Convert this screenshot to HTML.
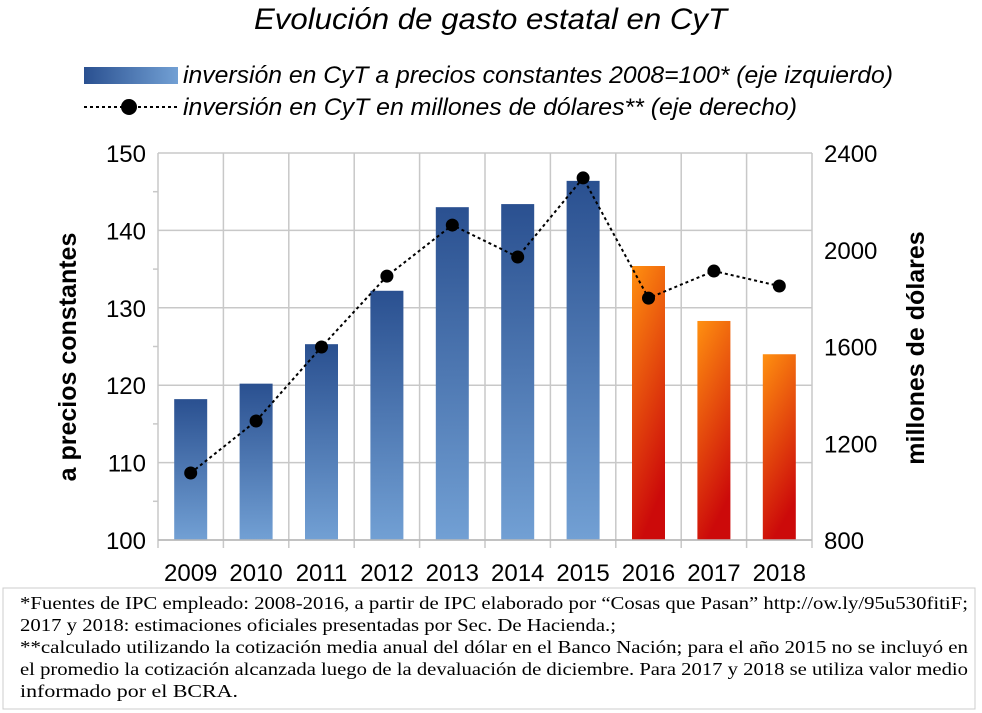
<!DOCTYPE html>
<html><head><meta charset="utf-8"><style>
html,body{margin:0;padding:0;background:#fff;}
svg{display:block;font-family:"Liberation Sans",sans-serif;}
</style></head><body>
<svg id="chart" width="982" height="713" viewBox="0 0 982 713">
<defs>
<linearGradient id="gBlue" x1="0" y1="0" x2="0" y2="1"><stop offset="0" stop-color="#2a5090"/><stop offset="1" stop-color="#72a0d4"/></linearGradient>
<linearGradient id="gOrange" x1="0" y1="0" x2="0.3" y2="1"><stop offset="0" stop-color="#ff9010"/><stop offset="1" stop-color="#cc0a0a"/></linearGradient>
<linearGradient id="gLeg" x1="0" y1="0" x2="1" y2="0"><stop offset="0" stop-color="#2a5090"/><stop offset="1" stop-color="#72a0d4"/></linearGradient>
</defs>
<text x="254" y="29" textLength="473" lengthAdjust="spacingAndGlyphs" font-size="30" font-style="italic">Evolución de gasto estatal en CyT</text>
<rect x="84" y="67" width="94" height="17" fill="url(#gLeg)"/>
<text x="183" y="83" textLength="710" lengthAdjust="spacingAndGlyphs" font-size="24" font-style="italic">inversión en CyT a precios constantes 2008=100* (eje izquierdo)</text>
<line x1="84" y1="107" x2="178" y2="107" stroke="#000" stroke-width="2" stroke-dasharray="3,3"/>
<circle cx="129" cy="107" r="8" fill="#000"/>
<text x="183" y="115" textLength="614" lengthAdjust="spacingAndGlyphs" font-size="24" font-style="italic">inversión en CyT en millones de dólares** (eje derecho)</text>
<g id="grid"></g><g id="bars"></g><g id="line"></g><g id="axes"></g>
<text transform="translate(76,357) rotate(-90)" text-anchor="middle" font-size="25" font-weight="bold">a precios constantes</text>
<text transform="translate(924,348) rotate(-90)" text-anchor="middle" font-size="25" font-weight="bold">millones de dólares</text>
<rect x="3" y="588" width="972" height="121" fill="none" stroke="#ccc"/>
<g font-family="Liberation Serif, serif" font-size="18">
<text x="20" y="609" textLength="948" lengthAdjust="spacingAndGlyphs">*Fuentes de IPC empleado: 2008-2016, a partir de IPC elaborado por “Cosas que Pasan” http://ow.ly/95u530fitiF;</text>
<text x="20" y="631" textLength="596" lengthAdjust="spacingAndGlyphs">2017 y 2018: estimaciones oficiales presentadas por Sec. De Hacienda.;</text>
<text x="20" y="653" textLength="948" lengthAdjust="spacingAndGlyphs">**calculado utilizando la cotización  media anual del dólar en el Banco Nación; para el año 2015 no se incluyó en</text>
<text x="20" y="675" textLength="948" lengthAdjust="spacingAndGlyphs">el promedio la cotización alcanzada luego de la devaluación de diciembre. Para 2017 y 2018 se utiliza valor medio</text>
<text x="20" y="697" textLength="218" lengthAdjust="spacingAndGlyphs">informado por el BCRA.</text>
</g>
</svg>
<script>
const categories=["2009","2010","2011","2012","2013","2014","2015","2016","2017","2018"];
const barValues=[118.2,120.2,125.3,132.2,143.0,143.4,146.4,135.4,128.3,124.0];
const lineValues=[1077,1292,1598,1891,2102,1970,2297,1800,1912,1850];
const leftTicks=[100,110,120,130,140,150];
const rightTicks=[800,1200,1600,2000,2400];
const NS="http://www.w3.org/2000/svg";
const L=158,R=812,T=153,B=540;
const cw=(R-L)/categories.length;
const yL=v=>B-(v-100)/50*(B-T);
const yR=v=>B-(v-800)/1600*(B-T);
const xC=i=>L+cw*(i+0.5);
function mk(tag,attrs,parent){const e=document.createElementNS(NS,tag);for(const k in attrs)e.setAttribute(k,attrs[k]);document.getElementById(parent).appendChild(e);return e;}
leftTicks.forEach(t=>{
 const g=mk('line',{x1:L,x2:R,y1:yL(t),y2:yL(t),stroke:'#c8c8c8','stroke-width':1.5},'grid');
 
 
 const tx=mk('text',{x:L-12,y:yL(t)+9,'text-anchor':'end','font-size':24},'axes');tx.textContent=t;
 
 
 if(t<150){const m=mk('line',{x1:L-5,x2:L,y1:yL(t+5),y2:yL(t+5),stroke:'#c8c8c8','stroke-width':1.5},'grid');
 
 }
});
rightTicks.forEach(t=>{
 const tx=mk('text',{x:R+12,y:yR(t)+9,'font-size':24},'axes');tx.textContent=t;
 
 
});
for(let i=0;i<=categories.length;i++){
 const g=mk('line',{x1:L+cw*i,x2:L+cw*i,y1:T,y2:B+8,stroke:'#c8c8c8','stroke-width':1.5},'grid');
 
 
}
categories.forEach((c,i)=>{
 const b=mk('rect',{x:xC(i)-16.5,y:yL(barValues[i]),width:33,height:B-yL(barValues[i]),fill:i>=7?'url(#gOrange)':'url(#gBlue)'},'bars');
 
 
 const tx=mk('text',{x:xC(i),y:581,'text-anchor':'middle','font-size':24},'axes');tx.textContent=c;
 
 
});
const pl=mk('polyline',{points:lineValues.map((v,i)=>xC(i)+','+yR(v)).join(' '),fill:'none',stroke:'#000','stroke-width':2,'stroke-dasharray':'3,3'},'line');


lineValues.forEach((v,i)=>{
 const c=mk('circle',{cx:xC(i),cy:yR(v),r:6.5,fill:'#000'},'line');
 
 
});
const ax=mk('line',{x1:L,x2:R,y1:B,y2:B,stroke:'#b8b8b8','stroke-width':1.5},'axes');


</script>
</body></html>
